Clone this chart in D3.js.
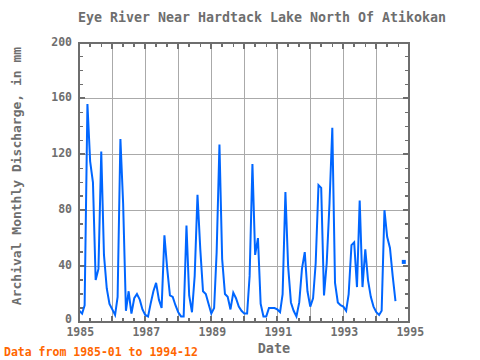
<!DOCTYPE html>
<html><head><meta charset="utf-8">
<script src="https://cdn.jsdelivr.net/npm/d3@7"></script>
<style>
html,body{margin:0;padding:0;background:#fff;}
svg{display:block;}
text{font-family:"DejaVu Sans Mono",monospace;}
</style></head>
<body>
<script>
const title = "Eye River Near Hardtack Lake North Of Atikokan";
const yLabel = "Archival Monthly Discharge, in mm";
const xLabel = "Date";
const note = "Data from 1985-01 to 1994-12";
const startYear = 1985;
const yTicks = [0, 40, 80, 120, 160, 200];
const xTickLabels = [1985, 1987, 1989, 1991, 1993, 1995];
const d1985 = [8, 6, 12, 156, 115, 100, 30, 38, 122, 48, 24, 13];
const d1986 = [9, 5, 18, 131, 85, 8, 22, 6, 17, 20, 16, 9];
const d1987 = [5, 4, 13, 22, 28, 16, 10, 62, 38, 19, 18, 12];
const d1988 = [7, 4, 4, 69, 19, 7, 33, 91, 52, 22, 20, 13];
const d1989 = [6, 10, 50, 127, 45, 20, 18, 9, 21, 17, 11, 8];
const d1990 = [6, 6, 33, 113, 48, 60, 13, 4, 4, 10, 10, 10];
const d1991 = [9, 7, 20, 93, 40, 14, 8, 4, 14, 38, 50, 22];
const d1992 = [11, 17, 42, 98, 96, 19, 42, 85, 139, 28, 14, 12];
const d1993 = [11, 8, 20, 55, 57, 25, 87, 25, 52, 30, 18, 11];
const d1994 = [7, 5, 8, 80, 61, 53, 33, 15, null, null, 43, null];
const discharge = [].concat(d1985, d1986, d1987, d1988, d1989, d1990, d1991, d1992, d1993, d1994);

const W = 480, H = 360;
const L = 79.3, R = 409.3, T = 42.5, B = 322;
const svg = d3.select("body").append("svg").attr("width", W).attr("height", H);

const data = discharge.map((v, i) => ({date: new Date(startYear, i, 1), v}));
const x = d3.scaleTime().domain([new Date(1985, 0, 1), new Date(1995, 0, 1)]).range([L, R]);
const y = d3.scaleLinear().domain([0, 200]).range([B, T]);

const grey = "#6e6e6e";
// grid
const g = svg.append("g").attr("shape-rendering", "crispEdges");
g.selectAll("line.vg").data(d3.range(1986, 1995)).join("line")
  .attr("x1", d => x(new Date(d, 0, 1))).attr("x2", d => x(new Date(d, 0, 1)))
  .attr("y1", T).attr("y2", B).attr("stroke", "#aaaaaa").attr("stroke-width", 1);
g.selectAll("line.hg").data([40, 80, 120, 160]).join("line")
  .attr("x1", L).attr("x2", R).attr("y1", d => y(d)).attr("y2", d => y(d))
  .attr("stroke", "#aaaaaa").attr("stroke-width", 1);

// ticks
const months = d3.timeMonth.every(4).range(new Date(1985, 0, 1), new Date(1995, 0, 2));
months.forEach(d => {
  const major = d.getMonth() === 0;
  const len = major ? 6 : 4;
  const xx = x(d);
  g.append("line").attr("x1", xx).attr("x2", xx).attr("y1", T).attr("y2", T + len).attr("stroke", grey).attr("stroke-width", major ? 2 : 1.5);
  g.append("line").attr("x1", xx).attr("x2", xx).attr("y1", B).attr("y2", B - len).attr("stroke", grey).attr("stroke-width", major ? 2 : 1.5);
});
d3.range(0, 201, 10).forEach(v => {
  const major = v % 40 === 0;
  const len = major ? 6 : 4;
  g.append("line").attr("x1", L).attr("x2", L + len).attr("y1", y(v)).attr("y2", y(v)).attr("stroke", grey).attr("stroke-width", major ? 2 : 1.5);
  g.append("line").attr("x1", R).attr("x2", R - len).attr("y1", y(v)).attr("y2", y(v)).attr("stroke", grey).attr("stroke-width", major ? 2 : 1.5);
});

// line
const line = d3.line().defined(d => d.v !== null).x(d => x(d.date)).y(d => y(d.v));
svg.append("path").datum(data).attr("d", line).attr("fill", "none")
  .attr("stroke", "#0066ff").attr("stroke-width", 2).attr("stroke-linejoin", "miter");
// isolated points
const iso = data.filter((d, i) => d.v !== null && (i === 0 || data[i-1].v === null) && (i === data.length-1 || data[i+1].v === null));
svg.selectAll("rect.pt").data(iso).join("rect")
  .attr("x", d => x(d.date) - 2).attr("y", d => y(d.v) - 2).attr("width", 4).attr("height", 4)
  .attr("fill", "#0066ff");

// frame
svg.append("rect").attr("x", L).attr("y", T).attr("width", R - L).attr("height", B - T)
  .attr("fill", "none").attr("stroke", grey).attr("stroke-width", 2).attr("shape-rendering", "crispEdges");

// axis labels
svg.selectAll("text.yt").data(yTicks).join("text")
  .attr("x", 72).attr("y", d => y(d) + (d === 0 ? 1 : 3)).attr("text-anchor", "end")
  .attr("font-size", 11.5).attr("font-weight", "bold").attr("fill", grey).text(d => d);
svg.selectAll("text.xt").data(xTickLabels).join("text")
  .attr("x", d => x(new Date(d, 0, 1)) + 1).attr("y", 336).attr("text-anchor", "middle")
  .attr("font-size", 11.5).attr("font-weight", "bold").attr("fill", grey).text(d => d);

svg.append("text").attr("x", 262).attr("y", 22).attr("text-anchor", "middle")
  .attr("font-size", 13.3).attr("fill", grey).attr("font-weight", "bold").text(title);
svg.append("text").attr("x", 274).attr("y", 353).attr("text-anchor", "middle")
  .attr("font-size", 13.5).attr("font-weight", "bold").attr("fill", grey).text(xLabel);
svg.append("text").attr("transform", "translate(21,176) rotate(-90)").attr("text-anchor", "middle")
  .attr("font-size", 13).attr("fill", grey).attr("font-weight", "bold").text(yLabel);
svg.append("text").attr("x", 4).attr("y", 356)
  .attr("font-size", 11.5).attr("font-weight", "bold").attr("fill", "#ff6600").text(note);
</script>
</body></html>
